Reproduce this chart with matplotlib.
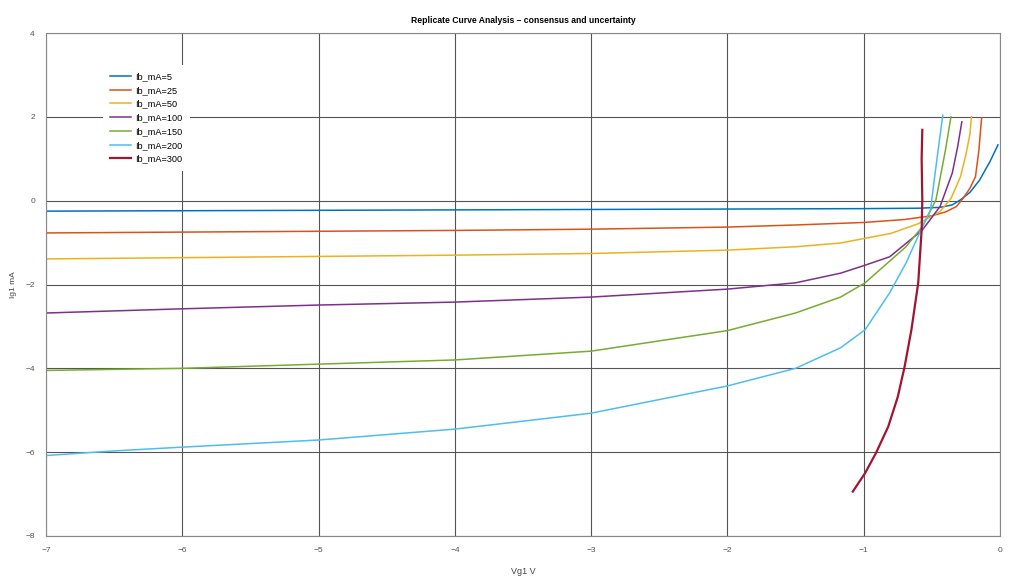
import matplotlib
matplotlib.use('Agg')
from matplotlib import pyplot as plt

plt.rcParams['font.family'] = ['Liberation Sans', 'DejaVu Sans']

# Ib_mA = 5
x_5 = [-7, -6, -5, -4, -3, -2, -1, -0.6, -0.44, -0.35, -0.29, -0.22, -0.15, -0.074, -0.015]
y_5 = [-0.25, -0.24, -0.23, -0.22, -0.21, -0.2, -0.19, -0.18, -0.16, -0.1, 0.02, 0.2, 0.49, 0.93, 1.33]
# Ib_mA = 25
x_25 = [-7, -6, -5, -4, -3, -2, -1.5, -1, -0.7, -0.5, -0.4, -0.32, -0.27, -0.22, -0.18, -0.155, -0.135]
y_25 = [-0.77, -0.75, -0.73, -0.71, -0.68, -0.63, -0.58, -0.52, -0.45, -0.36, -0.27, -0.14, 0.06, 0.3, 0.57, 1.2, 1.97]
# Ib_mA = 50
x_50 = [-7, -6, -5, -4, -3, -2, -1.5, -1.17, -0.8, -0.6, -0.44, -0.36, -0.29, -0.25, -0.22, -0.21]
y_50 = [-1.39, -1.36, -1.33, -1.3, -1.26, -1.18, -1.1, -1.01, -0.78, -0.55, -0.26, 0.05, 0.57, 1.1, 1.6, 2.0]
# Ib_mA = 100
x_100 = [-7, -6, -5, -4, -3, -2, -1.5, -1.17, -1, -0.81, -0.57, -0.44, -0.35, -0.31, -0.28]
y_100 = [-2.68, -2.58, -2.49, -2.42, -2.3, -2.11, -1.96, -1.73, -1.55, -1.34, -0.7, -0.14, 0.66, 1.3, 1.88]
# Ib_mA = 150
x_150 = [-7, -6, -5, -4, -3, -2, -1.5, -1.17, -0.99, -0.69, -0.57, -0.47, -0.4, -0.36]
y_150 = [-4.05, -4.0, -3.9, -3.8, -3.59, -3.1, -2.68, -2.3, -1.96, -1.1, -0.62, 0.02, 1.21, 2.0]
# Ib_mA = 200
x_200 = [-7, -6.5, -6, -5, -4, -3, -2, -1.5, -1.17, -0.99, -0.81, -0.69, -0.59, -0.51, -0.47, -0.42]
y_200 = [-6.08, -5.97, -5.88, -5.71, -5.45, -5.07, -4.42, -4.0, -3.51, -3.08, -2.2, -1.49, -0.77, -0.22, 0.81, 2.04]
# Ib_mA = 300
x_300 = [-1.08, -0.99, -0.91, -0.82, -0.75, -0.7, -0.65, -0.6, -0.575, -0.57, -0.575, -0.57]
y_300 = [-6.94, -6.5, -6.02, -5.39, -4.68, -3.96, -3.08, -1.96, -0.7, 0.02, 1.0, 1.69]

labels = ['Ib_mA=5', 'Ib_mA=25', 'Ib_mA=50', 'Ib_mA=100', 'Ib_mA=150', 'Ib_mA=200', 'Ib_mA=300']
colors = ['#0072BD', '#D95319', '#EDB120', '#7E2F8E', '#77AC30', '#4DBEEE', '#A2142F']
xs = [x_5, x_25, x_50, x_100, x_150, x_200, x_300]
ys = [y_5, y_25, y_50, y_100, y_150, y_200, y_300]

fig = plt.figure(figsize=(10.24, 5.76), dpi=100)
ax = fig.add_axes([46 / 1024, 1 - 536 / 576, 954 / 1024, 503 / 576])

for i in range(len(xs)):
    lw = 1.6 if i == len(xs) - 1 else 1.1
    ax.plot(xs[i], ys[i], color=colors[i], linewidth=lw, label=labels[i])

ax.set_xlim(-7, 0)
ax.set_ylim(-8, 4)
ax.set_xticks(range(-7, 1))
ax.set_yticks(range(-8, 5, 2))
ax.grid(True, color='#555555', linewidth=0.8)
ax.set_axisbelow(True)
for s in ax.spines.values():
    s.set_color('#888888')
ax.tick_params(labelsize=6, colors='#555555', length=0, pad=8)

ax.set_title('Replicate Curve Analysis – consensus and uncertainty', fontsize=6.2,
             fontweight='bold', pad=7)
ax.set_xlabel('Vg1 V', fontsize=6.5, color='#444444', labelpad=9)
ax.set_ylabel('Ig1 mA', fontsize=6, color='#444444', labelpad=6)

leg = ax.legend(loc='upper left', bbox_to_anchor=(0.055, 0.946), fontsize=6.6,
                frameon=True, handlelength=2.2, handletextpad=0.55,
                labelspacing=0.52, borderpad=0.8)
leg.get_frame().set_facecolor('white')
leg.get_frame().set_edgecolor('none')
leg.get_frame().set_alpha(1.0)

fig.savefig('out.png', dpi=100)
